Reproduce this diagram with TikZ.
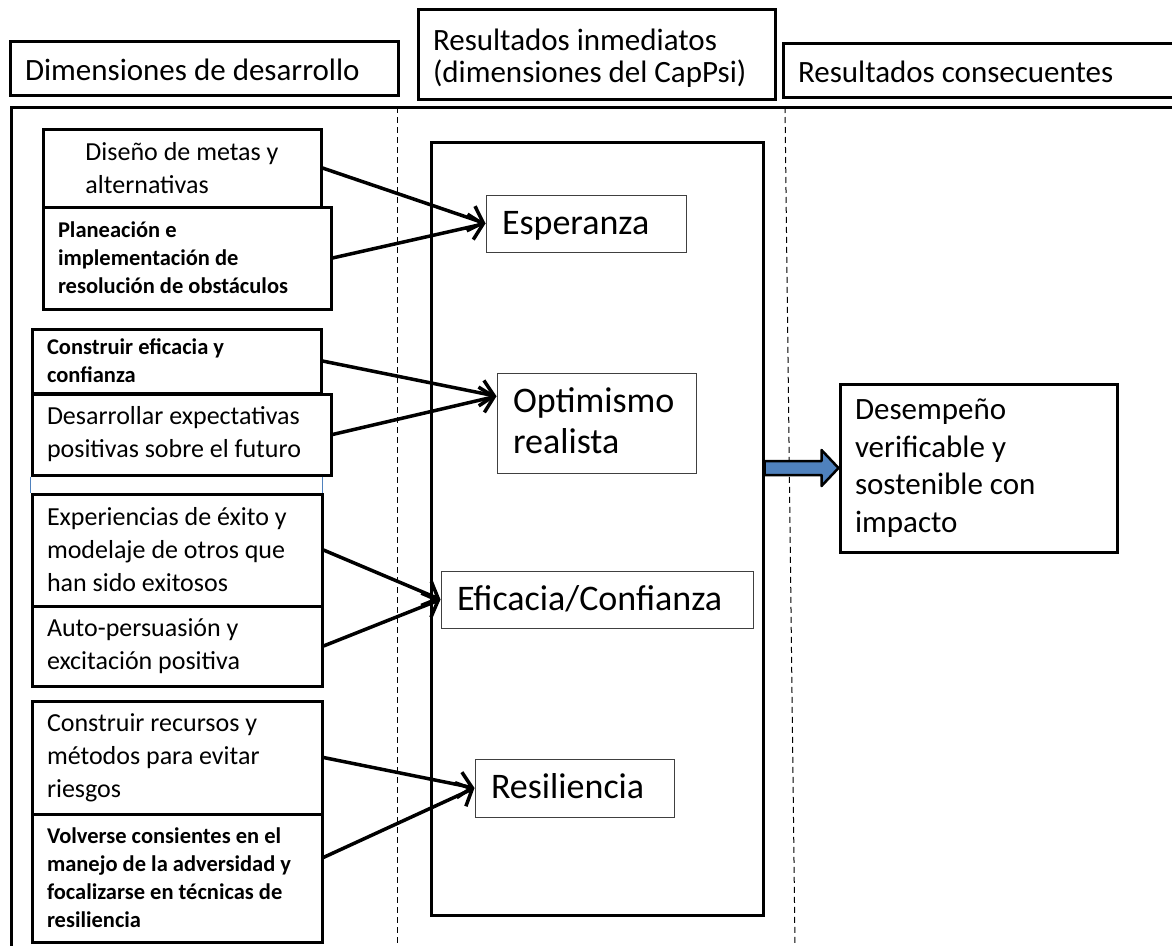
\documentclass[tikz,border=0pt]{standalone}
\usepackage{fontspec}
\setmainfont{Carlito}
\usetikzlibrary{arrows.meta,calc}
\definecolor{arrowblue}{HTML}{4F81BD}
\newcommand{\capstrut}{\rule[-18pt]{0pt}{57pt}}
\tikzset{
    header/.style={draw, line width=3pt, fill=white, inner xsep=15pt, inner ysep=0pt,
                   align=flush left, font=\fontsize{31}{32}\selectfont},
    dimbox/.style={draw, line width=3pt, fill=white, inner xsep=15pt, inner ysep=0pt,
                   align=flush left, font=\fontsize{26}{33}\selectfont},
    dimsmall/.style={dimbox, font=\bfseries\fontsize{22.5}{28}\selectfont},
    capframe/.style={draw, line width=3pt},
    capbox/.style={draw=black!75, line width=1pt, fill=white, inner xsep=16pt,
                   inner ysep=0pt, align=flush left, font=\fontsize{36}{41}\selectfont},
    outcome/.style={draw, line width=3pt, fill=white, inner xsep=15pt, inner ysep=0pt,
                    align=flush left, font=\fontsize{31}{37.7}\selectfont},
    flow/.style={-{Straight Barb[length=13pt,width=26pt]}, line width=3.5pt},
    bigflow/.style={fill=arrowblue, draw=black, line width=2.5pt, line join=round},
    divider/.style={line width=1pt, dash pattern=on 6pt off 4pt},
    outer/.style={line width=3pt},
    remnant/.style={draw=arrowblue, line width=1.5pt},
}

\begin{document}
\begin{tikzpicture}[x=1pt, y=-1pt]

    \useasboundingbox (0,0) rectangle (1172,945);
    \clip (0,0) rectangle (1172,945);

    \draw[outer] (11,107) rectangle (1200,965);
    \draw[divider] (397,107) -- (397,945);
    \draw[divider] (785,107) -- (795,945);

    \node[header, text width=358pt, minimum height=54pt] (hdim) at (204,68) {\rule[-15pt]{0pt}{54pt}Dimensiones de desarrollo};
    \node[header, text width=327pt, minimum height=90pt] (hinm) at (596.5,54) {\rule{0pt}{41pt}Resultados inmediatos\\(dimensiones del CapPsi)\rule[-17pt]{0pt}{17pt}};
    \node[header, text width=387pt, minimum height=54pt] (hcon) at (991.5,70) {\rule[-15pt]{0pt}{54pt}Resultados consecuentes};

    \node[capframe, minimum width=332pt, minimum height=773pt] (frame) at (597,528.5) {};
    \node[capbox, text width=168pt, minimum height=57pt] (hope) at (586,223.5) {\capstrut Esperanza};
    \node[capbox, text width=167pt, minimum height=100pt] (optim) at (596.5,423) {\rule{0pt}{39pt}Optimismo\\realista\rule[-20pt]{0pt}{20pt}};
    \node[capbox, text width=280pt, minimum height=57pt] (effic) at (597,599.5) {\capstrut Eficacia/Confianza};
    \node[capbox, text width=167pt, minimum height=58pt] (resil) at (574.5,788) {\capstrut Resiliencia};

    \node[dimbox, minimum width=278pt, minimum height=78pt] (goal1) at (182,168) {Diseño de metas y\\alternativas};
    \node[dimsmall, text width=258pt, minimum height=102pt] (goal2) at (187,258) {Planeación e\\implementación de\\resolución de obstáculos};

    \node[dimsmall, text width=259pt, minimum height=64pt] (opt1) at (176.5,361) {Construir eficacia y\\confianza};
    \node[dimbox, text width=269pt, minimum height=81pt] (opt2) at (181.5,434.5) {Desarrollar expectativas\\positivas sobre el futuro};

    \node[dimbox, text width=260pt, minimum height=112pt] (eff1) at (177,550) {Experiencias de éxito y\\modelaje de otros que\\han sido exitosos};
    \node[dimbox, text width=260pt, minimum height=80pt] (eff2) at (177,646) {Auto-persuasión y\\excitación positiva};

    \node[dimbox, text width=260pt, minimum height=113pt] (res1) at (177,757.5) {Construir recursos y\\métodos para evitar\\riesgos};
    \node[dimsmall, text width=260pt, minimum height=128pt] (res2) at (177,878) {Volverse consientes\ en el\\manejo de la adversidad y\\focalizarse en técnicas de\\resiliencia};

    \draw[remnant] (opt2.south west) -- (eff1.north west);
    \draw[remnant] (opt1.east |- opt2.south) -- (opt1.east |- eff1.north);

    \node[outcome, text width=247pt, minimum height=168pt] (perf) at (978.5,468) {Desempeño\\verificable y\\sostenible con\\impacto};

    \draw[flow] (goal1.east) -- (hope.west);
    \draw[flow] (goal2.east) -- (hope.west);
    \draw[flow] (opt1.east) -- (optim.165);
    \draw[flow] (opt2.east) -- (optim.165);
    \draw[flow] (eff1.east) -- (effic.west);
    \draw[flow] (eff2.east) -- (effic.west);
    \draw[flow] (res1.east) -- (resil.west);
    \draw[flow] (res2.8) -- (resil.west);

    \coordinate (src) at (frame.east |- perf.west);
    \filldraw[bigflow] ($(src)+(0,-7)$) -- ($(perf.west)+(-17,-7)$) -- ($(perf.west)+(-17,-18)$)
        -- (perf.west) -- ($(perf.west)+(-17,18)$) -- ($(perf.west)+(-17,7)$) -- ($(src)+(0,7)$) -- cycle;

\end{tikzpicture}
\end{document}
